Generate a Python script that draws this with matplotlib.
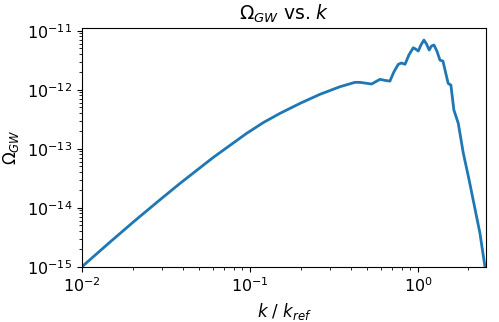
import numpy as np
import matplotlib
matplotlib.use("Agg")
import matplotlib.pyplot as plt

# values
k = [0.0100, 0.01449, 0.02065, 0.0291, 0.0383, 0.0605, 0.0955, 0.120, 0.151, 0.1987, 0.261,
     0.3436, 0.4217, 0.4518, 0.530, 0.594, 0.637, 0.681, 0.719, 0.764, 0.798,
     0.838, 0.883, 0.938, 0.973, 1.005, 1.042, 1.086, 1.125, 1.167, 1.203,
     1.245, 1.297, 1.352, 1.409, 1.459, 1.514, 1.571, 1.637, 1.738, 1.862,
     2.018, 2.133, 2.339, 2.506]
omega_gw = [1.00e-15, 2.53e-15, 6.03e-15, 1.36e-14, 2.58e-14, 7.13e-14, 1.82e-13, 2.77e-13, 3.98e-13,
            5.87e-13, 8.36e-13, 1.125e-12, 1.334e-12, 1.334e-12, 1.25e-12, 1.50e-12,
            1.44e-12, 1.40e-12, 2.00e-12, 2.70e-12, 2.84e-12, 2.70e-12, 3.87e-12,
            5.15e-12, 4.85e-12, 4.53e-12, 5.73e-12, 6.95e-12, 5.95e-12, 4.71e-12,
            5.50e-12, 5.73e-12, 4.53e-12, 3.18e-12, 3.06e-12, 2.00e-12, 1.28e-12,
            1.20e-12, 4.53e-13, 2.70e-13, 8.45e-14, 2.94e-14, 1.35e-14, 3.72e-15,
            1.00e-15]

fig = plt.figure(figsize=(4.99, 3.22), dpi=100)
ax = fig.add_axes([82 / 499, 1 - 266.7 / 322, (486.5 - 82) / 499, (266.7 - 28.3) / 322])
ax.plot(k, omega_gw, color="#1f77b4", lw=2)
ax.set_xscale("log")
ax.set_yscale("log")
ax.set_xlim(0.01, 2.56)
ax.set_ylim(1e-15, 1.1e-11)
ax.tick_params(labelsize=11.5)
ax.set_xlabel(r"$k$ / $k_{ref}$", fontsize=12)
ax.set_ylabel(r"$\Omega_{GW}$", fontsize=12)
ax.set_title(r"$\Omega_{GW}$ vs. $k$", fontsize=13.5)

fig.savefig("out.png", dpi=100)
